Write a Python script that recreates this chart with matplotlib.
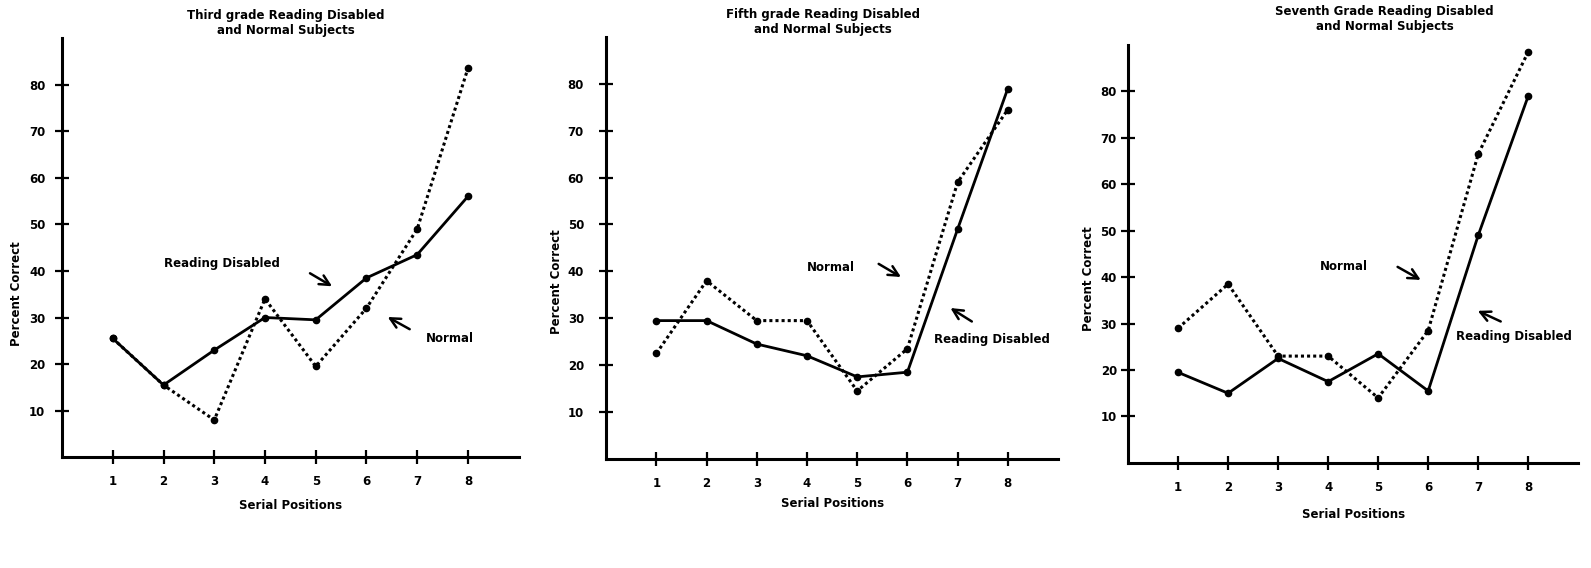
import numpy as np
import matplotlib.pyplot as plt

plt.rcParams['font.family'] = ['DejaVu Sans']
plt.rcParams['font.weight'] = 'bold'

positions = [1, 2, 3, 4, 5, 6, 7, 8]

third_disabled = [25.5, 15.5, 23, 30, 29.5, 38.5, 43.5, 56]
third_normal = [25.5, 15.5, 8, 34, 19.5, 32, 49, 83.5]
fifth_disabled = [29.5, 29.5, 24.5, 22, 17.5, 18.5, 49, 79]
fifth_normal = [22.5, 38, 29.5, 29.5, 14.5, 23.5, 59, 74.5]
seventh_disabled = [19.5, 15, 22.5, 17.5, 23.5, 15.5, 49, 79]
seventh_normal = [29, 38.5, 23, 23, 14, 28.5, 66.5, 88.5]

titles = ['Third grade Reading Disabled\nand Normal Subjects',
          'Fifth grade Reading Disabled\nand Normal Subjects',
          'Seventh Grade Reading Disabled\nand Normal Subjects']
y_ticks = [10, 20, 30, 40, 50, 60, 70, 80]

fig = plt.figure(figsize=(15.91, 5.68), dpi=100)

# axes boxes in figure fraction
boxes = [[0.039, 0.195, 0.287, 0.738],
         [0.381, 0.192, 0.284, 0.743],
         [0.709, 0.185, 0.283, 0.736]]
title_pos = [(0.49, 1.036), (0.48, 1.036), (0.57, 1.062)]
ylab_pos = [(-0.086, 0.39), (-0.095, 0.42), (-0.073, 0.44)]
ytick_pad = [7, 11, 3]
xlab_y = [-0.10, -0.09, -0.108]

# (text, text_xy, arrow_start, arrow_end)
notes = [
    [('Reading Disabled', (2.0, 41.5), (4.84, 39.8), (5.37, 36.4)),
     ('Normal', (7.18, 25.5), (6.9, 27.2), (6.37, 30.4))],
    [('Normal', (4.0, 40.9), (5.38, 41.9), (5.92, 38.5)),
     ('Reading Disabled', (6.52, 25.4), (7.33, 29.0), (6.81, 32.5))],
    [('Normal', (3.84, 42.3), (5.34, 42.5), (5.9, 39.1)),
     ('Reading Disabled', (6.56, 27.2), (7.5, 30.2), (6.94, 33.0))],
]

data = [(third_disabled, third_normal),
        (fifth_disabled, fifth_normal),
        (seventh_disabled, seventh_normal)]

for i in range(3):
    ax = fig.add_axes(boxes[i])
    dis, nor = data[i]
    ax.plot(positions, dis, color='black', lw=2.0, marker='o', ms=4.5)
    ax.plot(positions, nor, color='black', lw=2.2, ls=(0, (1, 1)),
            marker='o', ms=4.5)
    ax.set_xlim(0, 9)
    ax.set_ylim(0, 90)
    ax.set_xticks(positions)
    ax.set_yticks(y_ticks)
    ax.tick_params(direction='inout', length=10, width=1.6,
                   labelsize=8.5)
    ax.tick_params(axis='x', pad=8)
    ax.tick_params(axis='y', pad=ytick_pad[i])
    for lab in ax.get_xticklabels() + ax.get_yticklabels():
        lab.set_fontweight('bold')
    ax.spines['top'].set_visible(False)
    ax.spines['right'].set_visible(False)
    ax.spines['left'].set_linewidth(2.2)
    ax.spines['bottom'].set_linewidth(2.2)
    ax.text(title_pos[i][0], title_pos[i][1], titles[i],
            transform=ax.transAxes, ha='center', va='center',
            fontsize=8.5, fontweight='bold', linespacing=1.2)
    ax.set_ylabel('Percent Correct', fontsize=8.5, fontweight='bold')
    ax.yaxis.set_label_coords(*ylab_pos[i])
    ax.set_xlabel('Serial Positions', fontsize=8.5, fontweight='bold')
    ax.xaxis.set_label_coords(0.5, xlab_y[i])
    for txt, txy, a0, a1 in notes[i]:
        ax.text(txy[0], txy[1], txt, ha='left', va='center',
                fontsize=8.5, fontweight='bold')
        ax.annotate('', xy=a1, xytext=a0,
                    arrowprops=dict(arrowstyle='->', lw=1.8,
                                    color='black', mutation_scale=18))

fig.savefig('out.png', dpi=100, facecolor='white')
